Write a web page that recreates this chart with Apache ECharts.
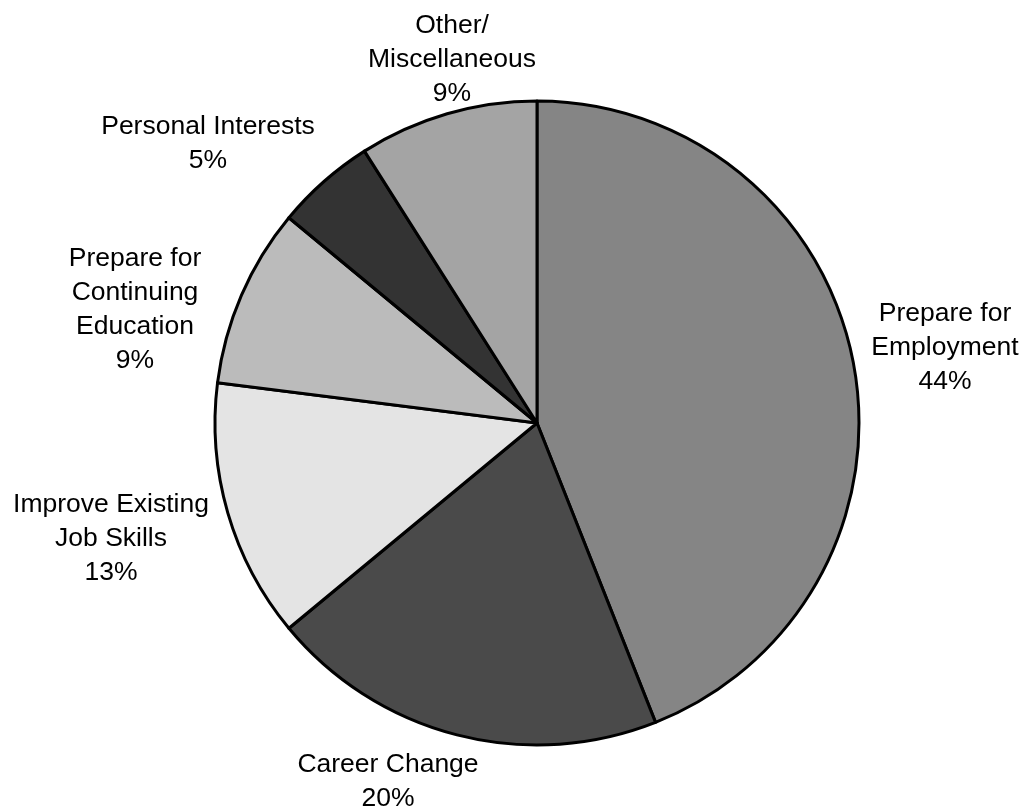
<!DOCTYPE html>
<html>
<head>
<meta charset="utf-8">
<title>Reasons for Enrolling</title>
<script src="https://cdn.jsdelivr.net/npm/echarts@6/dist/echarts.min.js"></script>
<style>
  html, body { margin: 0; padding: 0; background: #fff; }
  #chart { width: 1027px; height: 810px; }
</style>
</head>
<body>
<div id="chart"></div>
<script>
// slice names and shares (percent), clockwise from 12 o'clock
const categories = [
  'Prepare for\nEmployment',
  'Career Change',
  'Improve Existing\nJob Skills',
  'Prepare for\nContinuing\nEducation',
  'Personal Interests',
  'Other/\nMiscellaneous'
];
const shares = [44, 20, 13, 9, 5, 9];

// grey fills that stand in for the halftone patterns
const fills = ['#858585', '#4a4a4a', '#e4e4e4', '#bbbbbb', '#333333', '#a4a4a4'];
// label centres relative to the pie centre (px)
const labelOffsets = [[408, -75], [-149, 359], [-426, 116], [-402, -113], [-329, -279], [-85, -363]];

const pieCenter = [537, 423];

const chart = echarts.init(document.getElementById('chart'));

chart.setOption({
  animation: false,
  backgroundColor: '#fff',
  series: [
    {
      type: 'pie',
      center: pieCenter,
      radius: 322,
      startAngle: 90,
      clockwise: true,
      avoidLabelOverlap: false,
      emphasis: { disabled: true },
      data: categories.map((name, i) => ({
        name: name,
        value: shares[i],
        itemStyle: { color: fills[i] }
      })),
      itemStyle: {
        borderColor: '#000',
        borderWidth: 3
      },
      label: {
        show: true,
        position: 'outside',
        formatter: '{b}\n{c}%',
        color: '#000',
        fontFamily: 'Liberation Sans, Arial, sans-serif',
        fontSize: 26.5,
        lineHeight: 34,
        align: 'center'
      },
      labelLine: { show: false },
      labelLayout: (params) => {
        const off = labelOffsets[params.dataIndex];
        return {
          x: pieCenter[0] + off[0],
          y: pieCenter[1] + off[1],
          align: 'center',
          verticalAlign: 'middle'
        };
      }
    }
  ]
});

window.addEventListener('resize', () => {
  chart.resize();
});
</script>
</body>
</html>
